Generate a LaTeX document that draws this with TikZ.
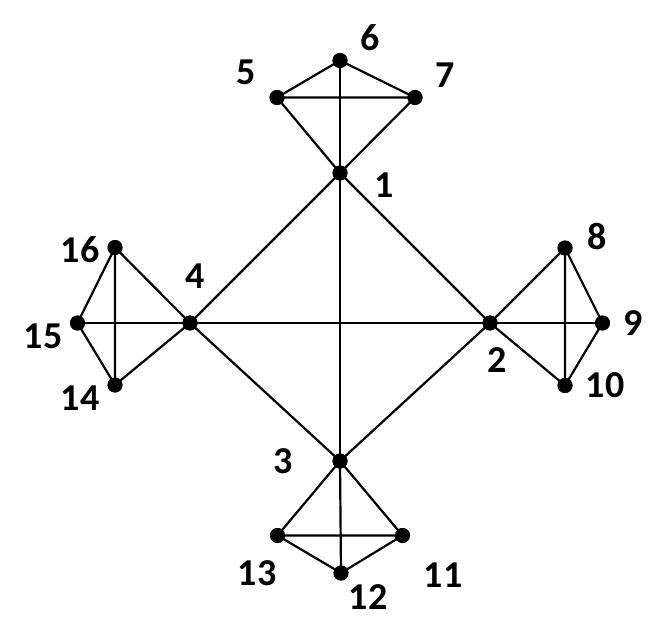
\documentclass[tikz,border=0pt]{standalone}
\usepackage{fontspec}
\setmainfont{Carlito}
\begin{document}
\begin{tikzpicture}[x=1pt,y=-1pt,
  vert/.style={circle,fill=black,inner sep=0pt,minimum size=15pt},
  lab/.style={font=\fontsize{38}{38}\selectfont\bfseries,inner sep=0pt},
  edge/.style={line width=2.2pt}]
\useasboundingbox[fill=white] (0,0) rectangle (666,628);
\node[vert] (v1) at (340,173) {};
\node[vert] (v2) at (490,323) {};
\node[vert] (v3) at (340,461) {};
\node[vert] (v4) at (190,323) {};
\node[vert] (v5) at (277,97.5) {};
\node[vert] (v6) at (340,60.5) {};
\node[vert] (v7) at (415,97.5) {};
\node[vert] (v8) at (565,248) {};
\node[vert] (v9) at (602.5,323) {};
\node[vert] (v10) at (565,385.5) {};
\node[vert] (v11) at (402.5,535.5) {};
\node[vert] (v12) at (341,573) {};
\node[vert] (v13) at (277.5,535.5) {};
\node[vert] (v14) at (115,385) {};
\node[vert] (v15) at (77.5,323) {};
\node[vert] (v16) at (115,247.5) {};
\node[lab] (l1) at (384,185) {1};
\node[lab] (l2) at (497,360) {2};
\node[lab] (l3) at (283,461) {3};
\node[lab] (l4) at (195,276) {4};
\node[lab] (l5) at (246.5,72) {5};
\node[lab] (l6) at (370,38) {6};
\node[lab] (l7) at (445,75) {7};
\node[lab] (l8) at (597,237) {8};
\node[lab] (l9) at (633,323) {9};
\node[lab] (l10) at (605,385) {10};
\node[lab] (l11) at (443,575) {11};
\node[lab] (l12) at (368,597) {12};
\node[lab] (l13) at (257,573) {13};
\node[lab] (l14) at (80,398) {14};
\node[lab] (l15) at (43,336) {15};
\node[lab] (l16) at (80,250) {16};
\draw[edge] (v1.center) -- (v2.center) -- (v3.center) -- (v4.center) -- (v1.center);
\draw[edge] (v1.center) -- (v3.center);
\draw[edge] (v2.center) -- (v4.center);
\draw[edge] (v5.center) -- (v6.center) -- (v7.center) -- (v5.center);
\draw[edge] (v1.center) -- (v5.center);
\draw[edge] (v1.center) -- (v6.center);
\draw[edge] (v1.center) -- (v7.center);
\draw[edge] (v8.center) -- (v9.center) -- (v10.center) -- (v8.center);
\draw[edge] (v2.center) -- (v8.center);
\draw[edge] (v2.center) -- (v9.center);
\draw[edge] (v2.center) -- (v10.center);
\draw[edge] (v11.center) -- (v12.center) -- (v13.center) -- (v11.center);
\draw[edge] (v3.center) -- (v11.center);
\draw[edge] (v3.center) -- (v12.center);
\draw[edge] (v3.center) -- (v13.center);
\draw[edge] (v14.center) -- (v15.center) -- (v16.center) -- (v14.center);
\draw[edge] (v4.center) -- (v14.center);
\draw[edge] (v4.center) -- (v15.center);
\draw[edge] (v4.center) -- (v16.center);
\foreach \v in {v1,v2,v3,v4,v5,v6,v7,v8,v9,v10,v11,v12,v13,v14,v15,v16}
  \fill (\v) circle (7.5pt);
\end{tikzpicture}
\end{document}
